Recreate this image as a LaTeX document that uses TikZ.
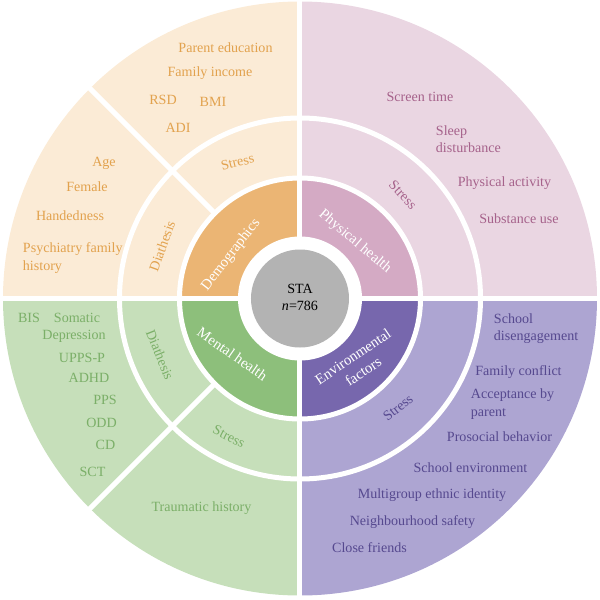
\documentclass[tikz,border=0pt]{standalone}
\usepackage{fontspec}
\setmainfont{Liberation Serif}
\definecolor{demo}{HTML}{EBB574}
\definecolor{demolight}{HTML}{FBEBD6}
\definecolor{demotext}{HTML}{E2A24E}
\definecolor{phys}{HTML}{D4AAC4}
\definecolor{physlight}{HTML}{EAD6E2}
\definecolor{phystext}{HTML}{A6628B}
\definecolor{ment}{HTML}{8DBF7B}
\definecolor{mentlight}{HTML}{C6DFBA}
\definecolor{menttext}{HTML}{7BAF68}
\definecolor{envi}{HTML}{7767AD}
\definecolor{envilight}{HTML}{ADA5D2}
\definecolor{envitext}{HTML}{56498F}
\definecolor{core}{HTML}{B3B3B3}
\begin{document}
\begin{tikzpicture}[x=0.025cm,y=0.025cm,
	font=\fontsize{10}{12.5}\selectfont,
	gap/.style={white,line width=0.125cm},
	cat/.style={text=white,align=center,font=\fontsize{10.5}{13}\selectfont},
	ring/.style={text=#1},
	item/.style={text=#1,align=left}]
	
	\def\ra{49}   % grey core
	\def\rb{62}   % inner ring, inside
	\def\rc{120.5}% inner | middle
	\def\rd{180.5}% middle | outer
	\def\re{297}  % outer edge
	\useasboundingbox (-300,-301.5) rectangle (300,298.5);
	
	\foreach \a/\c in {0/phys,90/demo,180/ment,270/envi}{
		\fill[\c light] (0,0) -- (\a:\re) arc[start angle=\a,end angle=\a+90,radius=\re] -- cycle;
		\fill[\c] (0,0) -- (\a:\rc) arc[start angle=\a,end angle=\a+90,radius=\rc] -- cycle;
	}
	\draw[gap] (-\re-5,0)--(\re+5,0);
	\draw[gap] (0,-\re-5)--(0,\re+5);
	\draw[gap] (0,0) circle[radius=\rc];
	\draw[gap] (0,0) circle[radius=\rd];
	\foreach \a in {135,225}\draw[gap] (\a:\rc)--(\a:\re+5);
	\fill[white] (0,0) circle[radius=\rb];
	\fill[core] (0,0) circle[radius=\ra];
	
	\node[align=center] (sta) at (0,1) {STA\\\textit{n}=786};
	
	% inner ring
	\node[cat,rotate=52] (demo) at (-69,43.5) {Demographics};
	\node[cat,rotate=-40] (phys) at (55,56.8) {Physical health};
	\node[cat,rotate=-35] (ment) at (-67.5,-55.5) {Mental health};
	\node[cat,rotate=34] (envi) at (58,-65.5) {Environmental\\factors};
	
	% middle ring
	\node[ring=demotext,rotate=14] (demostress) at (-62.5,136.5) {Stress};
	\node[ring=demotext,rotate=70] (demodiat) at (-138,52.5) {Diathesis};
	\node[ring=phystext,rotate=-47] (physstress) at (103,103.5) {Stress};
	\node[ring=menttext,rotate=-68] (mentdiat) at (-140,-56.5) {Diathesis};
	\node[ring=menttext,rotate=-27] (mentstress) at (-71,-138) {Stress};
	\node[ring=envitext,rotate=38] (envistress) at (98,-109) {Stress};
	
	% outer ring
	\foreach \x/\y/\t/\n in {-74.5/250.5/Parent education/pared,-90/225.5/Family income/faminc,
		-137/198.5/RSD/rsd,-87/196.5/BMI/bmi,-122/170.5/ADI/adi,-196/135.5/Age/age,
		-213/111.5/Female/female,-230/82.5/Handedness/hand}
		\node[item=demotext] (\n) at (\x,\y) {\t};
	\node[item=demotext,anchor=west] (psych) at (-282,40.5) {Psychiatry family\\history};
	
	\foreach \x/\y/\t/\n in {120/201.8/Screen time/screen,204.5/115.8/Physical activity/physact,
		219/79.5/Substance use/subst}
		\node[item=phystext] (\n) at (\x,\y) {\t};
	\node[item=phystext,anchor=west] (sleep) at (131,159.5) {Sleep\\disturbance};
	
	\foreach \x/\y/\t/\n in {-271/-19.5/BIS/bis,-223/-19.5/Somatic/somatic,-226/-37.5/Depression/depr,
		-218/-59.5/UPPS-P/upps,-211/-79.5/ADHD/adhd,-195/-101.5/PPS/pps,-198.5/-124.5/ODD/odd,
		-194.5/-146.5/CD/cd,-207.5/-173.5/SCT/sct,-98.5/-209.5/Traumatic history/trauma}
		\node[item=menttext] (\n) at (\x,\y) {\t};
	
	\foreach \x/\y/\t/\n in {218.5/-73.5/Family conflict/famconf,199.5/-138/Prosocial behavior/prosoc,
		170.5/-169.5/School environment/schenv,132/-196.5/Multigroup ethnic identity/ethnic,
		112.5/-223.5/Neighbourhood safety/safety,69.5/-249.5/Close friends/friends}
		\node[item=envitext] (\n) at (\x,\y) {\t};
	\node[item=envitext,anchor=west] (schdis) at (189,-30) {School\\disengagement};
	\node[item=envitext,anchor=west] (accept) at (166,-105.5) {Acceptance by\\parent};
	
\end{tikzpicture}
\end{document}
